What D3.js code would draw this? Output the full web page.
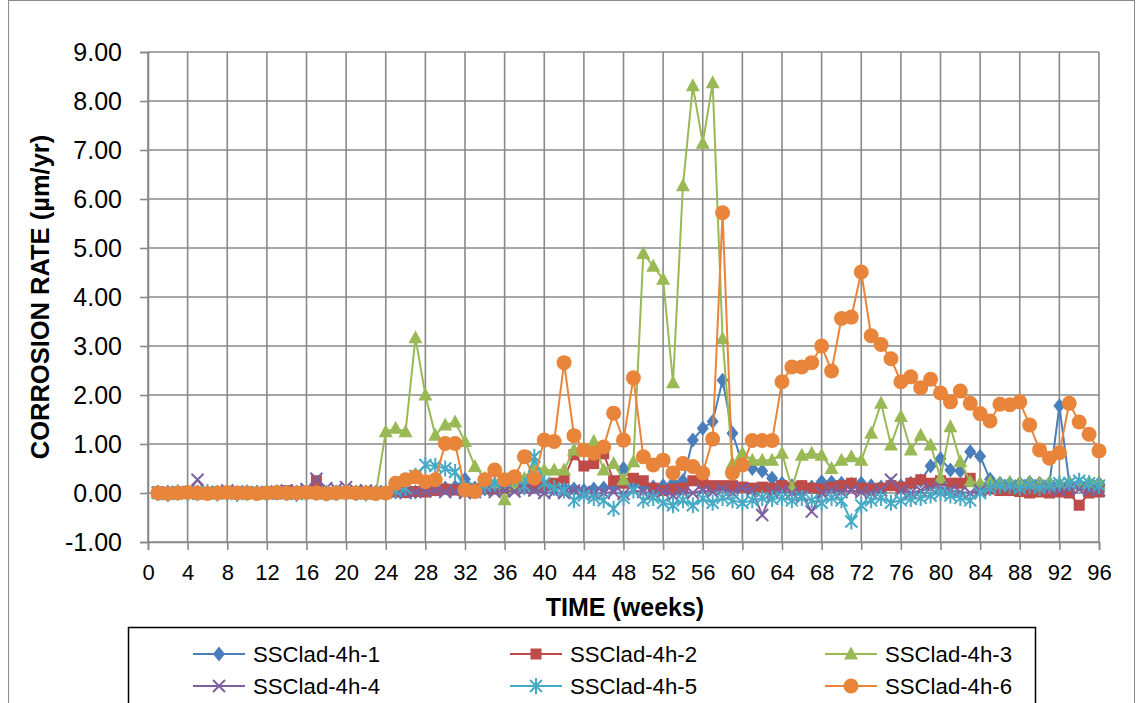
<!DOCTYPE html>
<html><head><meta charset="utf-8">
<script src="https://cdn.jsdelivr.net/npm/d3@7"></script>
<style>
html,body{margin:0;padding:0;background:#fff;}
svg{display:block;font-family:"Liberation Sans",Arial,sans-serif;}
</style></head>
<body><svg id="c" width="1141" height="703"></svg>
<script>
const weeks = d3.range(1, 97);
const xTicks = d3.range(0, 97, 4);
const yTicks = [-1,0,1,2,3,4,5,6,7,8,9];
const seriesNames = ["SSClad-4h-1","SSClad-4h-2","SSClad-4h-3","SSClad-4h-4","SSClad-4h-5","SSClad-4h-6"];
const s1 = [0.01,0.02,0.01,0.00,0.02,0.01,0.01,0.02,0.00,0.01,0.01,0.02,0.01,0.01,0.02,0.01,0.03,0.01,0.02,0.01,
 0.01,0.02,0.01,0.00,0.02,0.03,0.02,0.05,0.08,0.10,
 0.12,0.28,0.10,0.08,0.12,0.15,0.18,0.10,0.12,0.15,
 0.12,0.10,0.08,0.05,0.08,0.10,0.12,0.50,0.20,0.15,
 0.12,0.15,0.20,0.25,1.08,1.32,1.46,2.30,1.22,0.60,
 0.50,0.45,0.30,0.20,0.15,0.12,0.12,0.23,0.22,0.20,
 0.18,0.20,0.15,0.12,0.18,0.15,0.20,0.25,0.55,0.70,
 0.47,0.45,0.84,0.75,0.28,0.20,0.20,0.20,0.22,0.20,
 0.20,1.78,0.20,0.18,0.20,0.20];
const s2 = [0.02,-0.02,0.01,0.00,-0.02,0.01,0.01,0.00,0.02,-0.01,0.01,0.00,-0.02,0.05,0.01,0.00,0.25,0.01,-0.01,0.02,
 0.01,0.00,0.01,0.00,0.02,0.01,0.03,0.02,0.05,0.08,
 0.06,0.05,0.08,0.10,0.08,0.10,0.12,0.15,0.12,0.15,
 0.20,0.30,0.78,0.55,0.60,0.80,0.25,0.20,0.30,0.25,
 0.10,0.05,0.08,0.10,0.25,0.20,0.15,0.15,0.15,0.12,
 0.10,0.12,0.10,0.15,0.12,0.15,0.10,0.08,0.12,0.15,
 0.20,0.10,0.08,0.10,0.15,0.12,0.20,0.27,0.20,0.25,
 0.20,0.20,0.30,0.10,0.08,0.05,0.05,0.03,0.00,0.02,
 0.00,0.02,0.00,-0.25,0.00,0.02];
const s3 = [0.01,0.00,0.02,0.01,0.00,0.01,0.02,0.00,0.01,0.01,0.00,0.02,0.01,0.00,0.01,0.02,0.00,0.01,0.01,0.00,0.02,0.01,0.00,
 1.25,1.32,1.25,3.17,2.00,1.18,1.39,1.45,1.05,0.54,
 0.30,0.20,-0.14,0.15,0.30,0.55,0.47,0.47,0.47,0.88,
 0.85,1.05,0.47,0.60,0.27,0.64,4.89,4.63,4.36,2.25,
 6.27,8.31,7.14,8.37,3.15,0.60,0.81,0.67,0.67,0.67,
 0.81,0.10,0.77,0.81,0.77,0.50,0.67,0.74,0.67,1.22,
 1.83,0.98,1.56,0.88,1.18,0.98,0.30,1.35,0.64,0.23,
 0.20,0.22,0.20,0.22,0.20,0.22,0.20,0.22,0.20,0.22,0.20,0.22,0.20];
const s4 = [0.01,0.00,0.02,0.00,0.27,0.01,0.02,0.05,0.03,0.01,0.02,0.00,0.03,0.05,0.05,0.08,0.29,0.10,0.08,0.12,
 0.05,0.05,0.03,0.02,0.03,0.00,0.02,0.03,0.05,0.02,
 0.03,0.00,0.02,0.05,0.02,0.05,0.03,0.08,0.05,0.00,
 0.02,0.00,0.05,0.02,-0.02,0.00,0.02,-0.02,0.05,0.02,
 0.00,0.02,-0.05,0.02,0.00,0.05,0.02,0.08,0.00,0.10,
 0.05,-0.45,0.02,0.05,0.00,-0.05,-0.38,0.00,0.05,0.02,
 0.05,0.02,0.00,0.05,0.27,0.05,0.00,0.05,0.10,0.12,
 0.05,0.02,0.00,0.05,0.10,0.15,0.12,0.10,0.15,0.12,
 0.10,0.05,0.10,0.08,0.05,0.05];
const s5 = [0.00,-0.02,0.01,-0.01,0.00,0.02,-0.01,0.00,-0.02,0.01,0.00,-0.01,0.01,0.00,-0.02,0.00,0.01,-0.01,0.00,0.01,
 0.00,-0.01,0.00,0.01,0.05,0.10,0.35,0.57,0.55,0.50,
 0.43,0.10,0.05,0.15,0.20,0.25,0.30,0.15,0.74,0.20,
 0.10,0.05,-0.15,-0.05,-0.10,-0.15,-0.32,-0.10,0.05,-0.15,
 -0.10,-0.20,-0.25,-0.15,-0.25,-0.12,-0.20,-0.10,-0.15,-0.20,
 -0.15,-0.10,-0.12,-0.10,-0.15,-0.10,-0.15,-0.20,-0.10,-0.15,
 -0.58,-0.25,-0.15,-0.10,-0.20,-0.15,-0.12,-0.10,-0.05,0.00,
 -0.05,-0.10,-0.15,0.00,0.10,0.15,0.15,0.10,0.15,0.10,
 0.15,0.20,0.20,0.25,0.20,0.15];
const s6 = [0.00,-0.01,0.00,0.01,0.00,-0.01,0.00,0.01,0.00,0.00,-0.01,0.00,0.01,0.00,0.00,0.01,0.00,-0.01,0.00,0.01,0.00,0.00,-0.01,0.00,
 0.20,0.27,0.33,0.23,0.27,1.01,1.01,0.06,0.03,0.27,
 0.47,0.27,0.33,0.74,0.30,1.08,1.05,2.66,1.17,0.88,
 0.81,0.94,1.63,1.08,2.35,0.74,0.57,0.67,0.41,0.60,
 0.54,0.41,1.10,5.72,0.41,0.57,1.07,1.07,1.07,2.27,
 2.57,2.57,2.66,3.00,2.49,3.56,3.59,4.51,3.21,3.03,
 2.74,2.27,2.37,2.15,2.32,2.04,1.86,2.08,1.83,1.62,
 1.47,1.81,1.80,1.86,1.39,0.88,0.71,0.82,1.83,1.45,
 1.20,0.86];
const seriesValues = [s1,s2,s3,s4,s5,s6];
const colors = ["#4A7EBB","#BE4B48","#98B954","#7D60A0","#46AAC5","#E8853A"];
const markers = ["diamond","square","triangle","x","asterisk","circle"];

const svg = d3.select("#c");
// chart border
svg.append("rect").attr("x",8.5).attr("y",0.5).attr("width",1126).attr("height",720)
  .attr("fill","none").attr("stroke","#8c8c8c").attr("stroke-width",1);

const L=148, R=1099, T=52, B=542;
const x = d3.scaleLinear().domain([0,96]).range([L,R]);
const y = d3.scaleLinear().domain([-1,9]).range([B,T]);
const gridColor="#898989";

// grid
svg.append("g").selectAll("line").data(yTicks).join("line")
  .attr("x1",L).attr("x2",R).attr("y1",d=>y(d)).attr("y2",d=>y(d))
  .attr("stroke",gridColor).attr("stroke-width",1.6);
svg.append("g").selectAll("line").data(xTicks).join("line")
  .attr("x1",d=>x(d)).attr("x2",d=>x(d)).attr("y1",T).attr("y2",B)
  .attr("stroke",gridColor).attr("stroke-width",1.6);

// axes
const yFmt = d => d.toFixed(2);
const yAxis = svg.append("g").attr("transform",`translate(${L},0)`)
  .call(d3.axisLeft(y).tickValues(yTicks).tickFormat(yFmt).tickSize(8).tickPadding(18));
const xAxis = svg.append("g").attr("transform",`translate(0,${B})`)
  .call(d3.axisBottom(x).tickValues(xTicks).tickFormat(d3.format("d")).tickSize(8).tickPadding(14));
[yAxis,xAxis].forEach(g=>{
  g.select(".domain").attr("stroke",gridColor).attr("stroke-width",1.6);
  g.selectAll(".tick line").attr("stroke",gridColor).attr("stroke-width",1.6);
  g.selectAll("text").attr("fill","#000").attr("font-family","Liberation Sans, Arial, sans-serif");
});
yAxis.selectAll("text").attr("font-size",25);
xAxis.selectAll("text").attr("font-size",22);

// titles
svg.append("text").attr("transform",`translate(49,${(T+B)/2}) rotate(-90)`)
  .attr("text-anchor","middle").attr("font-weight","bold").attr("font-size",25.5)
  .text("CORROSION RATE (µm/yr)");
svg.append("text").attr("x",625).attr("y",616).attr("text-anchor","middle")
  .attr("font-weight","bold").attr("font-size",25).text("TIME (weeks)");

function drawMarker(g, type, color){
  if(type==="diamond") g.append("path").attr("d","M0,-7.5L6,0L0,7.5L-6,0Z").attr("fill",color);
  else if(type==="square") g.append("rect").attr("x",-5.5).attr("y",-5.5).attr("width",11).attr("height",11).attr("fill",color);
  else if(type==="triangle") g.append("path").attr("d","M0,-7.5L7,5.5L-7,5.5Z").attr("fill",color);
  else if(type==="circle") g.append("circle").attr("r",7.5).attr("fill",color);
  else if(type==="x") g.append("path").attr("d","M-6,-6L6,6M-6,6L6,-6").attr("stroke",color).attr("stroke-width",2).attr("fill","none");
  else if(type==="asterisk") g.append("path").attr("d","M-6,-6L6,6M-6,6L6,-6M0,-8L0,8").attr("stroke",color).attr("stroke-width",2).attr("fill","none");
}

const line = d3.line().x((d,i)=>x(weeks[i])).y(d=>y(d));
seriesValues.forEach((vals,k)=>{
  const g = svg.append("g");
  g.append("path").datum(vals).attr("d",line).attr("fill","none")
    .attr("stroke",colors[k]).attr("stroke-width",2);
  vals.forEach((v,i)=>{
    const m = g.append("g").attr("transform",`translate(${x(weeks[i])},${y(v)})`);
    drawMarker(m, markers[k], colors[k]);
  });
});

// legend
const leg = svg.append("g");
leg.append("rect").attr("x",128.5).attr("y",627.5).attr("width",907).attr("height",90)
  .attr("fill","#fff").attr("stroke","#000").attr("stroke-width",1.5);
const colX=[193,510,825], rowY=[654,686];
seriesNames.forEach((n,k)=>{
  const cx=colX[k%3], cy=rowY[Math.floor(k/3)];
  const g=leg.append("g");
  g.append("line").attr("x1",cx).attr("x2",cx+52).attr("y1",cy).attr("y2",cy).attr("stroke",colors[k]).attr("stroke-width",2);
  const m=g.append("g").attr("transform",`translate(${cx+26},${cy})`);
  drawMarker(m, markers[k], colors[k]);
  g.append("text").attr("x",cx+60).attr("y",cy+8).attr("font-size",22).attr("textLength",127).attr("lengthAdjust","spacingAndGlyphs").text(n);
});
</script></body></html>
